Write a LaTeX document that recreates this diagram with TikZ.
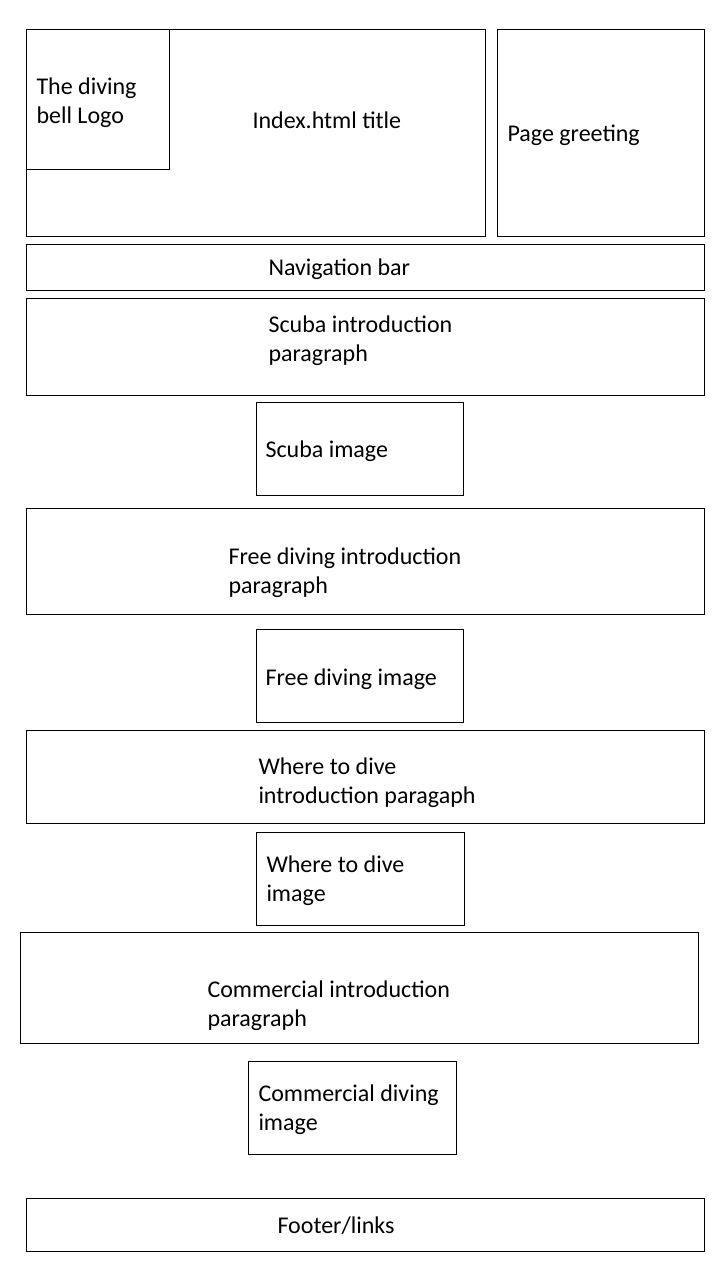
\documentclass[tikz,border=0pt]{standalone}
\usepackage{fontspec}
\setmainfont{Carlito}
\usetikzlibrary{positioning}

\tikzset{
    label text/.style={anchor=base west, inner sep=0pt, align=left,
        font=\fontsize{24}{29}\selectfont}
}

\begin{document}
\begin{tikzpicture}[x=1pt,y=-1pt,line width=1pt]
    \useasboundingbox (0,0) rectangle (720,1280);

    \foreach \xa/\ya/\xb/\yb in {26/29/485/236, 26/29/169/169, 497/29/704/236,
        26/244/704/290, 26/298/704/395, 256/402/463/495,
        26/508/704/614, 256/629/463/722, 26/730/704/823,
        256/832/464/925, 20/932/698/1043, 248/1061/456/1154,
        26/1198/704/1251}
    \draw (\xa,\ya) rectangle (\xb,\yb);

    % two-line labels sit on the baseline of their last line
    \node[label text] (logo) at (36,123) {The diving\\bell Logo};
    \node[label text] (title) at (252,128) {Index.html title};
    \node[label text] (greeting) at (507,141) {Page greeting};
    \node[label text] (navbar) at (268,275) {Navigation bar};
    \node[label text] (scubaintro) at (268,361) {Scuba introduction\\paragraph};
    \node[label text] (scubaimage) at (265,457) {Scuba image};
    \node[label text] (freeintro) at (228,593) {Free diving introduction\\paragraph};
    \node[label text] (freeimage) at (265,685) {Free diving image};
    \node[label text] (whereintro) at (258,803) {Where to dive\\introduction paragaph};
    \node[label text] (whereimage) at (266,901) {Where to dive\\image};
    \node[label text] (commintro) at (207,1026) {Commercial introduction\\paragraph};
    \node[label text] (commimage) at (258,1130) {Commercial diving\\image};
    \node[label text] (footer) at (277,1233) {Footer/links};

\end{tikzpicture}
\end{document}
